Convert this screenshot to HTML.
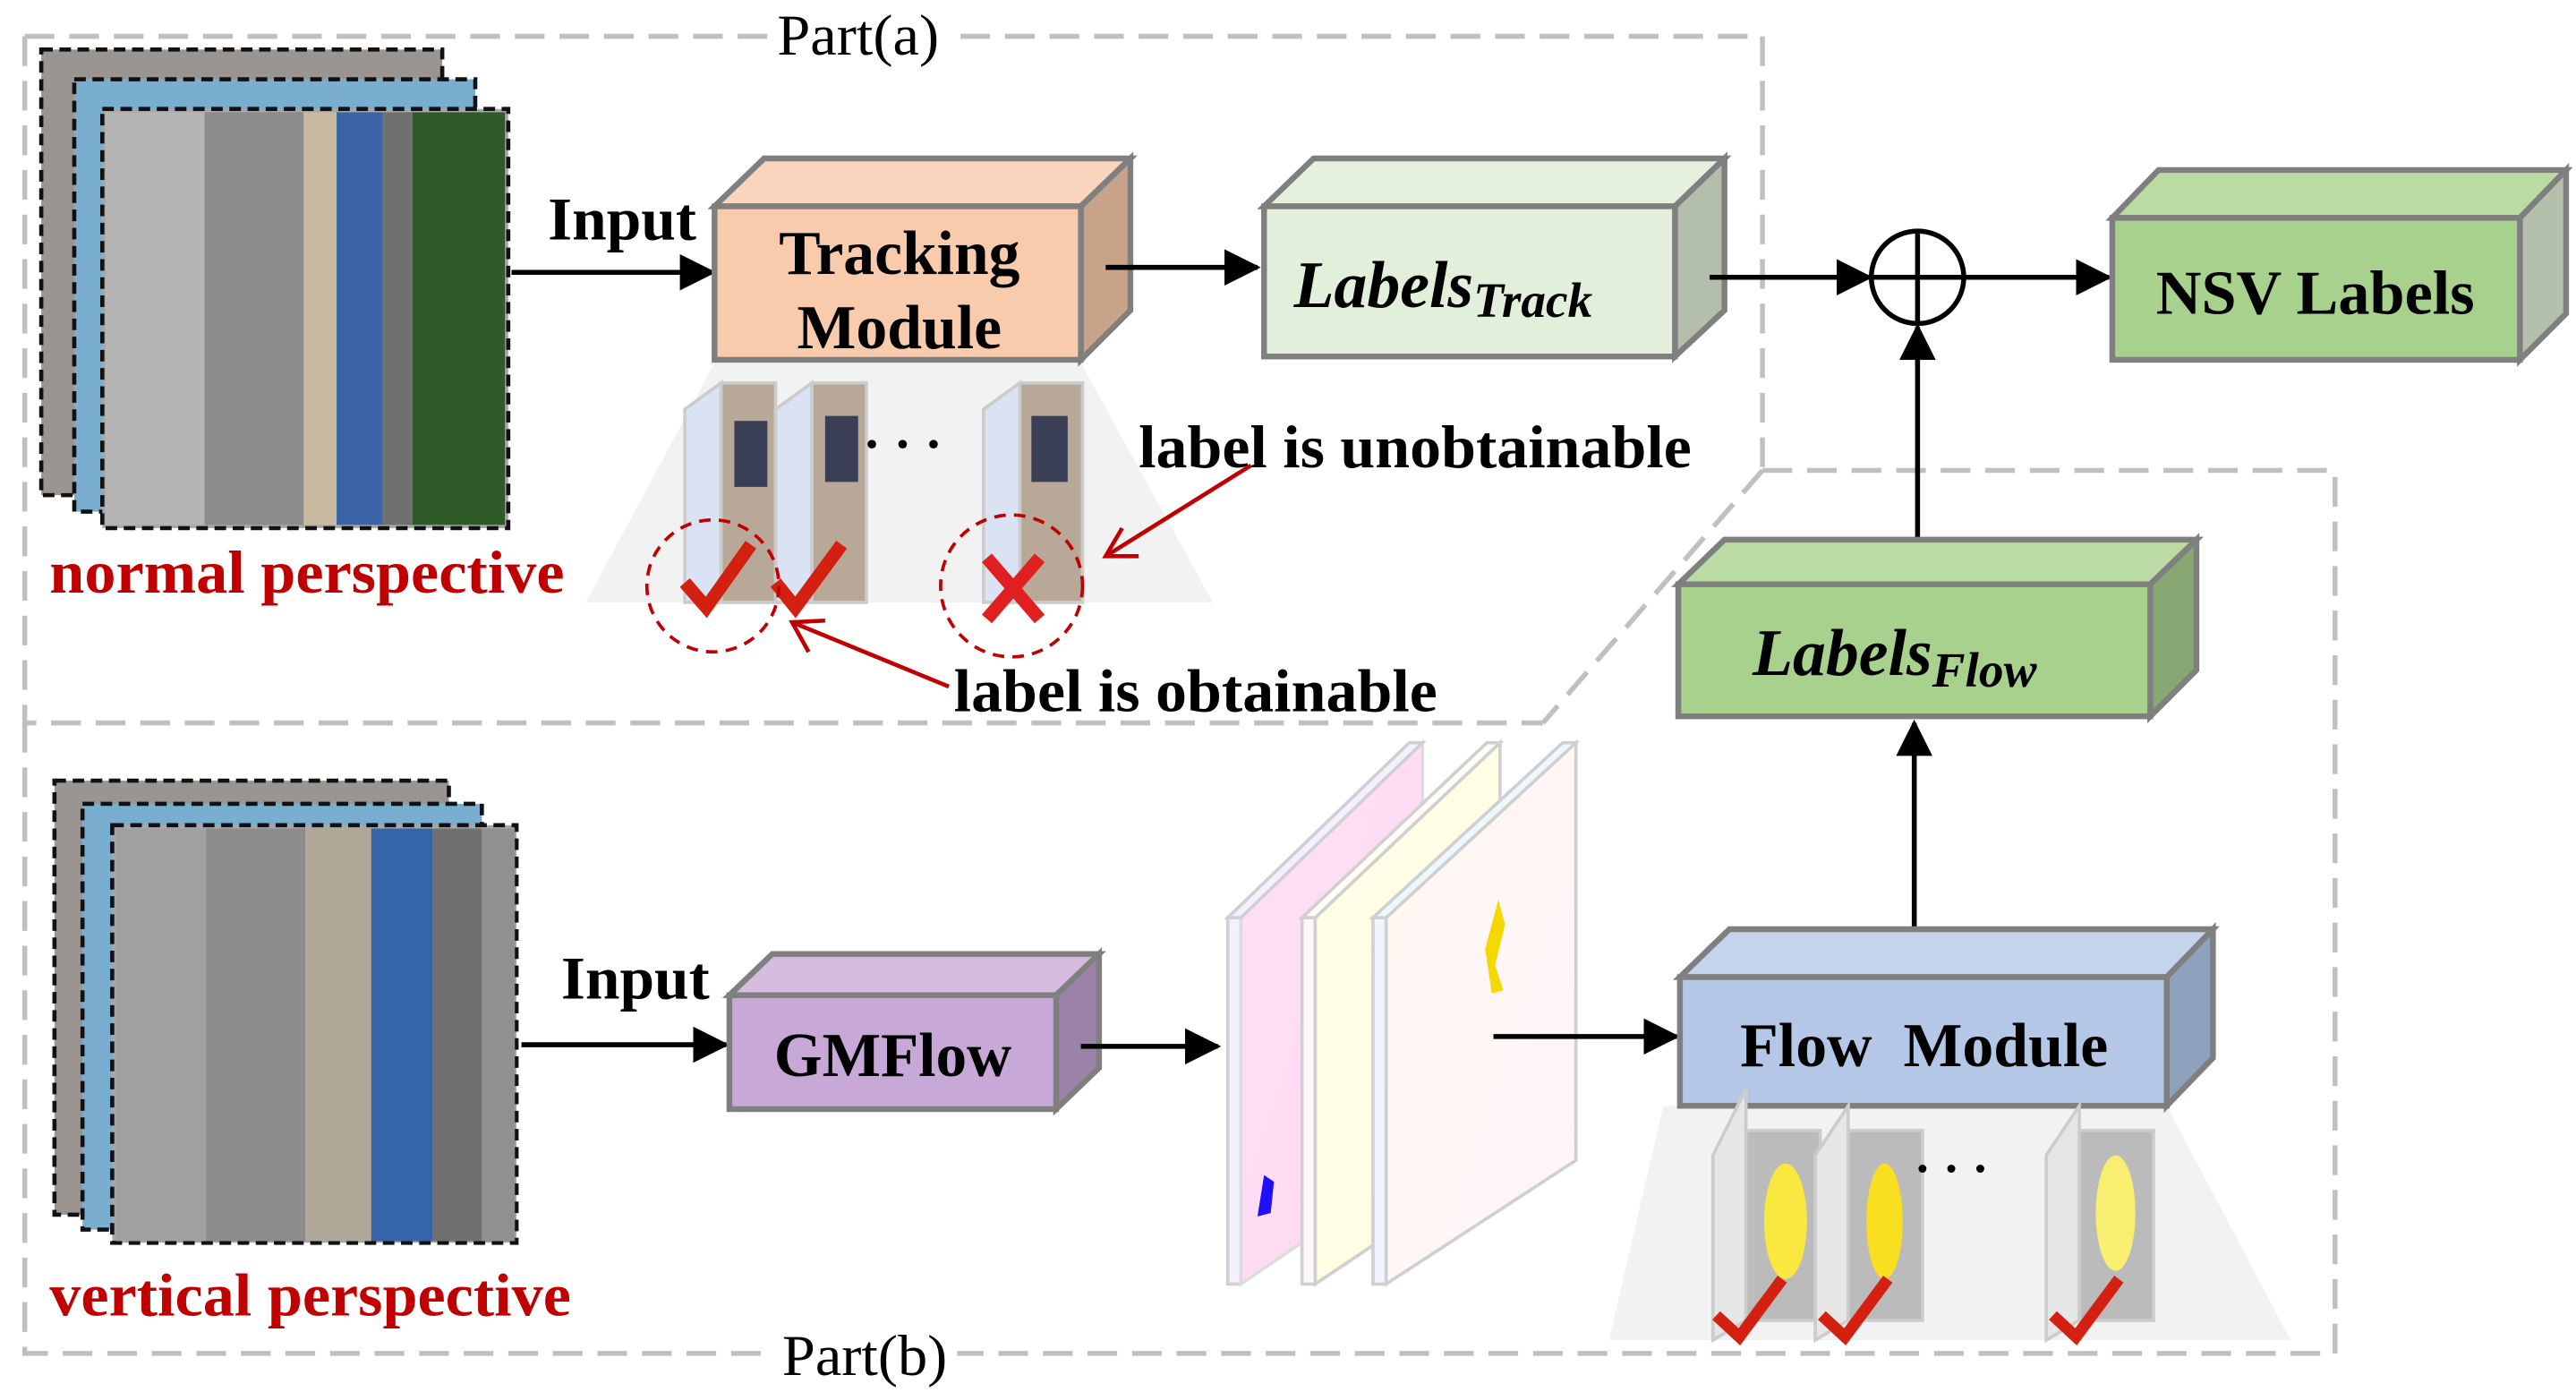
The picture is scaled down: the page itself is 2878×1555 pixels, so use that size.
<!DOCTYPE html>
<html><head><meta charset="utf-8"><style>
html,body{margin:0;padding:0;background:#fff;}
svg{display:block;}
text{font-family:"Liberation Serif",serif;font-weight:bold;}
</style></head><body>
<svg width="2878" height="1555" viewBox="0 0 1561 843.4" xmlns="http://www.w3.org/2000/svg">
<defs>
<marker id="ab" markerWidth="22" markerHeight="22" refX="20" refY="11" orient="auto" markerUnits="userSpaceOnUse"><path d="M0,0 L22,11 L0,22 z" fill="#000"/></marker>
<linearGradient id="g1" x1="0" y1="0" x2="1" y2="1"><stop offset="0" stop-color="#ffe0f5"/><stop offset="1" stop-color="#ffd8f0"/></linearGradient>
<linearGradient id="g2" x1="0" y1="0" x2="1" y2="1"><stop offset="0" stop-color="#ffffe8"/><stop offset="1" stop-color="#fffbe0"/></linearGradient>
<linearGradient id="g3" x1="0" y1="0" x2="1" y2="1"><stop offset="0" stop-color="#fff8f0"/><stop offset="1" stop-color="#fff4fb"/></linearGradient>
</defs>
<g fill="none" stroke="#c0c0c0" stroke-width="3" stroke-dasharray="18,9">
<path d="M15,22 L1068,22 L1068,285"/>
<path d="M15,22 L15,438 L935,438"/>
<path d="M1068,285 L935,438"/>
<path d="M1068,285 L1415,285 L1415,820 L15,820 L15,438"/>
</g>
<rect x="466" y="4" width="108" height="36" fill="#fff"/>
<text x="520" y="33" font-size="35" text-anchor="middle" style="font-weight:normal" textLength="98" lengthAdjust="spacingAndGlyphs">Part(a)</text>
<rect x="468" y="805" width="112" height="36" fill="#fff"/>
<text x="524" y="833" font-size="35" text-anchor="middle" style="font-weight:normal" textLength="100" lengthAdjust="spacingAndGlyphs">Part(b)</text>

<g stroke="#111" stroke-width="2.5" stroke-dasharray="7,4">
<rect x="25" y="30" width="243" height="270" fill="#9a9590"/>
<rect x="45" y="48" width="243" height="262" fill="#7aaed0"/>
<rect x="62" y="66" width="246" height="254" fill="#a8a8a8"/>
</g>
<rect x="64" y="68" width="60" height="250" fill="#b5b5b5"/>
<rect x="124" y="68" width="60" height="250" fill="#8c8c8c"/>
<rect x="184" y="68" width="20" height="250" fill="#c9b9a0"/>
<rect x="204" y="68" width="28" height="250" fill="#3a63a8"/>
<rect x="232" y="68" width="18" height="250" fill="#707070"/>
<rect x="250" y="68" width="56" height="250" fill="#2f5a2a"/>
<text x="30" y="359" font-size="37" fill="#c00000" textLength="312" lengthAdjust="spacingAndGlyphs">normal perspective</text>

<text x="332" y="145" font-size="37" textLength="90" lengthAdjust="spacingAndGlyphs">Input</text>
<line x1="310" y1="165" x2="432" y2="165" stroke="#000" stroke-width="3" marker-end="url(#ab)"/>

<polygon points="433,220 655,220 735,365 355,365" fill="#f2f2f2"/>
<g stroke="#ccc" stroke-width="2">
<polygon points="415,248 437,232 437,365 415,365" fill="#dae3f3"/>
<rect x="437" y="232" width="33" height="133" fill="#b8a898"/>
<polygon points="470,248 492,232 492,365 470,365" fill="#dae3f3"/>
<rect x="492" y="232" width="33" height="133" fill="#b8a898"/>
<polygon points="596,248 618,232 618,365 596,365" fill="#dae3f3"/>
<rect x="618" y="232" width="38" height="133" fill="#b8a898"/>
</g>
<rect x="445" y="255" width="20" height="40" fill="#3a3f55"/>
<rect x="500" y="252" width="20" height="40" fill="#3a3f55"/>
<rect x="625" y="252" width="22" height="40" fill="#3a3f55"/>
<text x="523" y="280" font-size="32">· · ·</text>
<path d="M415,353 L428,368 L455,330" fill="none" stroke="#d42010" stroke-width="8"/>
<path d="M470,353 L482,368 L510,330" fill="none" stroke="#d42010" stroke-width="8"/>
<path d="M598,338 L630,375 M630,338 L598,375" stroke="#e02020" stroke-width="8"/>
<circle cx="432" cy="355" r="40" fill="none" stroke="#c00000" stroke-width="2" stroke-dasharray="7,5"/>
<circle cx="613" cy="355" r="43" fill="none" stroke="#c00000" stroke-width="2" stroke-dasharray="7,5"/>
<text x="690" y="283" font-size="37" textLength="335" lengthAdjust="spacingAndGlyphs">label is unobtainable</text>
<text x="578" y="431" font-size="37" textLength="293" lengthAdjust="spacingAndGlyphs">label is obtainable</text>
<g stroke="#c00000" stroke-width="2.5" fill="none">
<line x1="758" y1="282" x2="670" y2="337"/><path d="M680,320 L670,337 L690,337"/>
<line x1="575" y1="416" x2="480" y2="377"/><path d="M490,395 L480,377 L500,376"/>
</g>

<g stroke="#7f7f7f" stroke-width="3.5">
<polygon points="433,125 463,96 685,96 655,125" fill="#f9d5bd"/>
<polygon points="655,125 685,96 685,188 655,218" fill="#c9a28a"/>
<rect x="433" y="125" width="222" height="93" fill="#f8cbad"/>
</g>
<text x="545" y="166" font-size="38" text-anchor="middle" textLength="146" lengthAdjust="spacingAndGlyphs">Tracking</text>
<text x="545" y="211" font-size="38" text-anchor="middle" textLength="124" lengthAdjust="spacingAndGlyphs">Module</text>
<line x1="670" y1="162" x2="762" y2="162" stroke="#000" stroke-width="3" marker-end="url(#ab)"/>

<g stroke="#7f7f7f" stroke-width="3.5">
<polygon points="766,125 796,96 1045,96 1015,125" fill="#e5f0df"/>
<polygon points="1015,125 1045,96 1045,188 1015,216" fill="#b3bfab"/>
<rect x="766" y="125" width="249" height="91" fill="#e2efda"/>
</g>
<text x="784" y="186" font-size="40" font-style="italic">Labels<tspan font-size="30" dy="6">Track</tspan></text>

<line x1="1036" y1="168" x2="1133" y2="168" stroke="#000" stroke-width="3" marker-end="url(#ab)"/>
<circle cx="1162" cy="168" r="28" fill="#fff" stroke="#000" stroke-width="3"/>
<line x1="1134" y1="168" x2="1190" y2="168" stroke="#000" stroke-width="3"/>
<line x1="1162" y1="140" x2="1162" y2="196" stroke="#000" stroke-width="3"/>
<line x1="1190" y1="168" x2="1278" y2="168" stroke="#000" stroke-width="3" marker-end="url(#ab)"/>
<line x1="1162" y1="340" x2="1162" y2="198" stroke="#000" stroke-width="3" marker-end="url(#ab)"/>

<g stroke="#7f7f7f" stroke-width="3.5">
<polygon points="1280,132 1308,103 1555,103 1527,132" fill="#bbdba5"/>
<polygon points="1527,132 1555,103 1555,190 1527,218" fill="#b4c0ab"/>
<rect x="1280" y="132" width="247" height="86" fill="#a9d18e"/>
</g>
<text x="1403" y="190" font-size="38" text-anchor="middle" textLength="193" lengthAdjust="spacingAndGlyphs">NSV Labels</text>

<g stroke="#7f7f7f" stroke-width="3.5">
<polygon points="1017,354 1045,327 1331,327 1303,354" fill="#bbdba5"/>
<polygon points="1303,354 1331,327 1331,406 1303,434" fill="#88a873"/>
<rect x="1017" y="354" width="286" height="80" fill="#a9d18e"/>
</g>
<text x="1062" y="409" font-size="40" font-style="italic">Labels<tspan font-size="30" dy="7">Flow</tspan></text>
<line x1="1160" y1="570" x2="1160" y2="438" stroke="#000" stroke-width="3" marker-end="url(#ab)"/>

<g stroke="#111" stroke-width="2.5" stroke-dasharray="7,4">
<rect x="33" y="473" width="239" height="263" fill="#9a9590"/>
<rect x="50" y="487" width="242" height="258" fill="#7aaed0"/>
<rect x="68" y="500" width="245" height="253" fill="#a8a8a8"/>
</g>
<rect x="70" y="502" width="55" height="250" fill="#a0a0a0"/>
<rect x="125" y="502" width="60" height="250" fill="#8c8c8c"/>
<rect x="185" y="502" width="40" height="250" fill="#b0a898"/>
<rect x="225" y="502" width="37" height="250" fill="#3565a8"/>
<rect x="262" y="502" width="30" height="250" fill="#707070"/>
<rect x="292" y="502" width="20" height="250" fill="#909090"/>
<text x="30" y="797" font-size="37" fill="#c00000" textLength="316" lengthAdjust="spacingAndGlyphs">vertical perspective</text>

<text x="340" y="605" font-size="37" textLength="90" lengthAdjust="spacingAndGlyphs">Input</text>
<line x1="316" y1="633" x2="440" y2="633" stroke="#000" stroke-width="3" marker-end="url(#ab)"/>

<g stroke="#7f7f7f" stroke-width="3.5">
<polygon points="442,603 468,578 666,578 640,603" fill="#d6bde0"/>
<polygon points="640,603 666,578 666,647 640,672" fill="#9c82a8"/>
<rect x="442" y="603" width="198" height="69" fill="#c8a8d6"/>
</g>
<text x="541" y="652" font-size="38" text-anchor="middle" textLength="144" lengthAdjust="spacingAndGlyphs">GMFlow</text>
<line x1="655" y1="634" x2="738" y2="634" stroke="#000" stroke-width="3" marker-end="url(#ab)"/>

<g stroke="#d0d0d0" stroke-width="2">
<polygon points="744,556 752,556 752,778 744,778" fill="#f5f0ff"/>
<polygon points="752,556 862,450 862,703 752,778" fill="url(#g1)" stroke="#ddd"/>
<polygon points="744,556 854,450 862,450 752,556" fill="#f5f0ff"/>
<polygon points="789,556 797,556 797,778 789,778" fill="#fff8f8"/>
<polygon points="797,556 909,450 909,703 797,778" fill="url(#g2)"/>
<polygon points="789,556 901,450 909,450 797,556" fill="#fffff5"/>
<polygon points="832,556 840,556 840,778 832,778" fill="#f0f5ff"/>
<polygon points="840,556 955,450 955,703 840,778" fill="url(#g3)"/>
<polygon points="832,556 947,450 955,450 840,556" fill="#f0f8ff"/>
</g>
<path d="M766,712 L772,716 L770,735 L762,737 Z" fill="#2010ff"/>
<path d="M908,545 L912,560 L906,585 L911,600 L904,602 L900,575 Z" fill="#f5d800"/>
<line x1="905" y1="628" x2="1016" y2="628" stroke="#000" stroke-width="3" marker-end="url(#ab)"/>

<polygon points="1008,670 1313,670 1388,812 975,812" fill="#f2f2f2"/>
<g stroke="#7f7f7f" stroke-width="3.5">
<polygon points="1018,592 1048,563 1341,563 1313,592" fill="#c4d4ec"/>
<polygon points="1313,592 1341,563 1341,641 1313,670" fill="#8ea1bd"/>
<rect x="1018" y="592" width="295" height="78" fill="#b4c7e7"/>
</g>
<text x="1166" y="646" font-size="38" text-anchor="middle" textLength="223" lengthAdjust="spacingAndGlyphs">Flow&#160;&#160;Module</text>
<g stroke="#ccc" stroke-width="2">
<polygon points="1038,700 1058,660 1058,800 1038,812" fill="#e6e6e6"/>
<rect x="1058" y="685" width="45" height="115" fill="#bbb"/>
<polygon points="1100,700 1120,670 1120,800 1100,812" fill="#e6e6e6"/>
<rect x="1120" y="685" width="45" height="115" fill="#bbb"/>
<polygon points="1240,700 1260,670 1260,800 1240,812" fill="#e6e6e6"/>
<rect x="1260" y="685" width="45" height="115" fill="#bbb"/>
</g>
<ellipse cx="1082" cy="740" rx="13" ry="35" fill="#f8e840"/>
<ellipse cx="1142" cy="740" rx="11" ry="35" fill="#f8e020"/>
<ellipse cx="1282" cy="735" rx="12" ry="35" fill="#f8ee70"/>
<text x="1160" y="718" font-size="30">· · ·</text>
<path d="M1040,797 L1054,810 L1080,775" fill="none" stroke="#d42010" stroke-width="7"/>
<path d="M1104,797 L1118,810 L1144,775" fill="none" stroke="#d42010" stroke-width="7"/>
<path d="M1244,797 L1258,810 L1284,775" fill="none" stroke="#d42010" stroke-width="7"/>
</svg>
</body></html>
